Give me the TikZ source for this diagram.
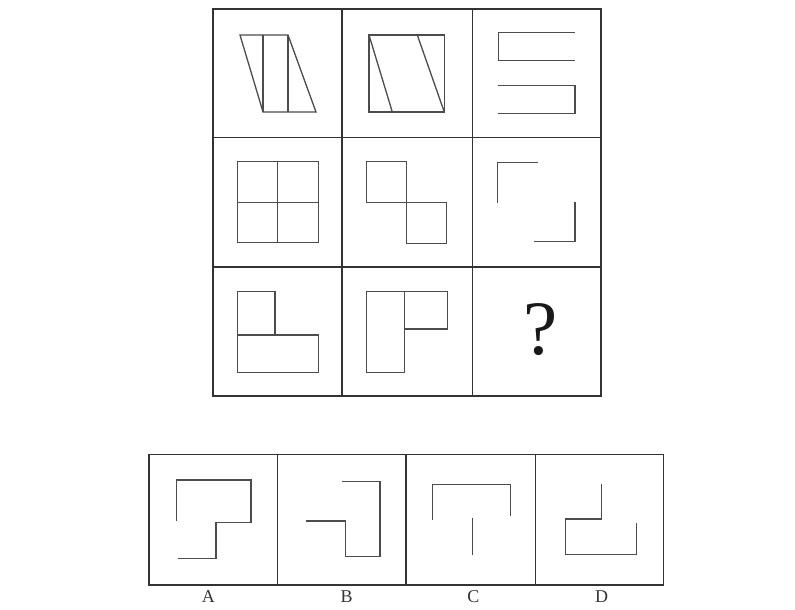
\documentclass[tikz,border=0pt]{standalone}
\usepackage{fontspec}
\setmainfont{Liberation Serif}
\begin{document}
\begin{tikzpicture}[x=1pt,y=-1pt,
  gridline/.style={draw=black!80,line width=1.6pt},
  fig/.style={draw=black!70,line width=1.3pt,line join=miter},
  lab/.style={font=\fontsize{18}{18}\selectfont,text=black!80,inner sep=0pt}]
\useasboundingbox (0,0) rectangle (795,610);
% main grid
\draw[gridline] (213,9) rectangle (601,396);
\draw[gridline] (342,9) -- (342,396);
\draw[gridline] (472.5,9) -- (472.5,396);
\draw[gridline] (213,137.3) -- (601,137.3);
\draw[gridline] (213,267) -- (601,267);
% cell 1
\draw[fig] (240,35) -- (288,35) -- (316,112) -- (263,112) -- cycle;
\draw[fig] (263,35) -- (263,112);
\draw[fig] (288,35) -- (288,112);
% cell 2
\draw[fig] (369,35) rectangle (444.3,112);
\draw[fig] (369,35) -- (392.3,112);
\draw[fig] (417.3,35) -- (444.3,112);
% cell 3
\draw[fig] (575,32.7) -- (498.3,32.7) -- (498.3,60.7) -- (575,60.7);
\draw[fig] (498.3,85.7) -- (575,85.7) -- (575,113.3) -- (498.3,113.3);
% cell 4
\draw[fig] (237.3,161.7) rectangle (318.3,242.7);
\draw[fig] (277.7,161.7) -- (277.7,242.7);
\draw[fig] (237.3,202.2) -- (318.3,202.2);
% cell 5
\draw[fig] (366.7,161.7) rectangle (406.7,202.7);
\draw[fig] (406.7,202.7) rectangle (446.7,243.3);
% cell 6
\draw[fig] (538.3,162.7) -- (497.7,162.7) -- (497.7,202.7);
\draw[fig] (575,201.7) -- (575,241.7) -- (534.3,241.7);
% cell 7
\draw[fig] (237.3,291.7) rectangle (275,335);
\draw[fig] (237.3,335) rectangle (318.3,372.7);
% cell 8
\draw[fig] (366.7,291.7) rectangle (404.3,372.7);
\draw[fig] (404.3,291.7) rectangle (447.7,329);
% cell 9
\node[inner sep=0pt,font=\fontsize{77}{77}\selectfont,text=black!90] (q) at (540.5,330) {?};
% options
\draw[gridline,line width=1.4pt] (149,454.3) rectangle (663.3,585);
\draw[gridline,line width=1.4pt] (277.7,454.3) -- (277.7,585);
\draw[gridline,line width=1.4pt] (406,454.3) -- (406,585);
\draw[gridline,line width=1.4pt] (535.7,454.3) -- (535.7,585);
% A
\draw[fig] (176.7,521) -- (176.7,480) -- (251,480) -- (251,522.7) -- (216,522.7) -- (216,558.3) -- (178.3,558.3);
% B
\draw[fig] (342.3,481.7) -- (380,481.7) -- (380,556.7) -- (345.7,556.7) -- (345.7,521) -- (305.7,521);
% C
\draw[fig] (432.3,520) -- (432.3,484.3) -- (510.7,484.3) -- (510.7,515.7);
\draw[fig] (472.3,517.7) -- (472.3,555);
% D
\draw[fig] (601.7,484.3) -- (601.7,519) -- (565.7,519) -- (565.7,554.3) -- (636.7,554.3) -- (636.7,523.3);
% labels
\node[lab] (la) at (208.3,596.5) {A};
\node[lab] (lb) at (346.7,596.5) {B};
\node[lab] (lc) at (473.3,596.5) {C};
\node[lab] (ld) at (601.7,596.5) {D};
\end{tikzpicture}
\end{document}
